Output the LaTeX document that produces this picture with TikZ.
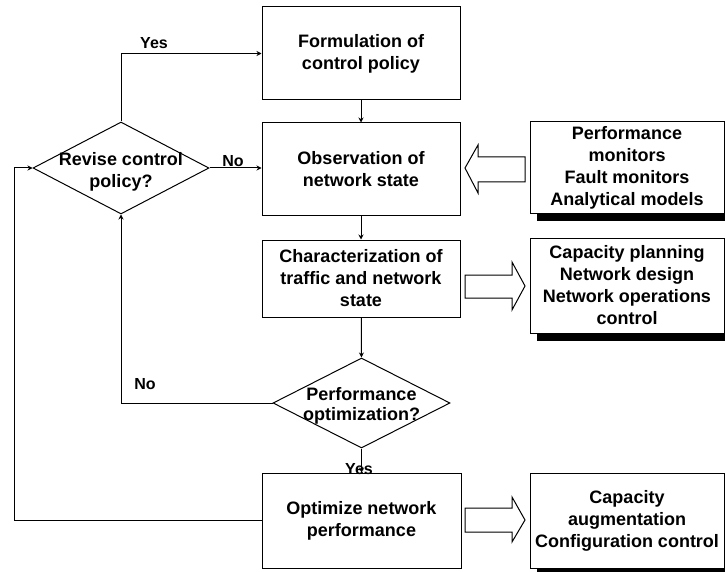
\documentclass[tikz,border=0pt]{standalone}
\usepackage{fontspec}
\setmainfont{Liberation Sans}
\usetikzlibrary{shapes.geometric,arrows.meta,calc}
\begin{document}
\begin{tikzpicture}[x=1pt,y=-1pt,
  font=\bfseries\fontsize{18}{22}\selectfont,
  line width=1pt,
  box/.style={draw, align=center, inner sep=0pt, minimum width=198pt},
  outbox/.style={draw, fill=white, align=center, inner sep=0pt, minimum width=194pt},
  dec/.style={draw, diamond, inner sep=0pt},
  flow/.style={-{Stealth[length=5pt,width=5pt]}},
  lbl/.style={font=\bfseries\fontsize{16}{19}\selectfont},
  hollow/.style={draw, fill=white, line join=miter}
]
\useasboundingbox (0,0) rectangle (725,572);

% main chain
\node[box, minimum height=93pt] (F) at (361,53.5) {Formulation of\\control policy};
\node[box, minimum height=92pt] (O) at (361,169) {Observation of\\network state};
\node[box, minimum height=77pt] (C) at (361,278.5) {Characterization of\\traffic and network\\state};
\node[dec, minimum width=177pt, minimum height=90pt] (d2) at (361.5,403) {};
\node[align=center, font=\bfseries\fontsize{18}{20}\selectfont] (d2t) at ($(d2.center)+(0,3)$) {Performance\\optimization?};
\node[box, minimum width=199pt, minimum height=95pt] (Opt) at (361.5,520.5) {Optimize network\\performance};

% revise decision
\node[dec, minimum width=176pt, minimum height=92pt] (d1) at (121,168) {};
\node[align=center] (d1t) at ($(d1.center)+(0,4)$) {Revise control\\policy?};

% side boxes
\node[outbox, minimum height=91pt] (P) at (627,167.5) {Performance\\monitors\\Fault monitors\\Analytical models};
\node[outbox, minimum height=95pt] (Cap) at (627,285.5) {Capacity planning\\Network design\\Network operations\\control};
\node[outbox, minimum height=95pt] (Conf) at (627,520.5) {Capacity\\augmentation\\Configuration control};

% drop shadows of the side boxes
\foreach \b in {P,Cap,Conf}{
  \fill[black] ($(\b.south west)+(7,0.5)$) rectangle ($(\b.south east)+(7,7)$);
  \fill[black] ($(\b.north east)+(0.5,7)$) rectangle ($(\b.south east)+(7,7)$);
}

% block arrows
\draw[hollow] (465,168) -- (478,145) -- (478,157) -- (525,157) -- (525,182) -- (478,182) -- (478,193) -- cycle;
\draw[hollow] (525,286) -- (512,262) -- (512,275) -- (465,275) -- (465,298) -- (512,298) -- (512,310) -- cycle;
\draw[hollow] (525,520) -- (512,497) -- (512,508) -- (465,508) -- (465,532) -- (512,532) -- (512,542) -- cycle;

% connectors
\coordinate (loop) at (14,0);
\draw[flow] (F) -- (O);
\draw[flow] (O) -- (C);
\draw[flow] (C) -- (d2.north);
\draw[flow] (d2.south) -- (Opt.north);
\draw[flow] (d1.north) |- (F.west);
\draw[flow] (d1.east) -- (d1.east -| O.west);
\draw[flow] (d2.west) -| (d1.south);
\draw[flow] (Opt.west) -- (Opt.west -| loop) |- (d1.west);

% branch labels
\node[lbl] (yes1) at (154,43) {Yes};
\node[lbl] (no1) at (233,161) {No};
\node[lbl] (no2) at (145,384) {No};
\node[lbl] (yes2) at (359,469) {Yes};
\end{tikzpicture}
\end{document}
